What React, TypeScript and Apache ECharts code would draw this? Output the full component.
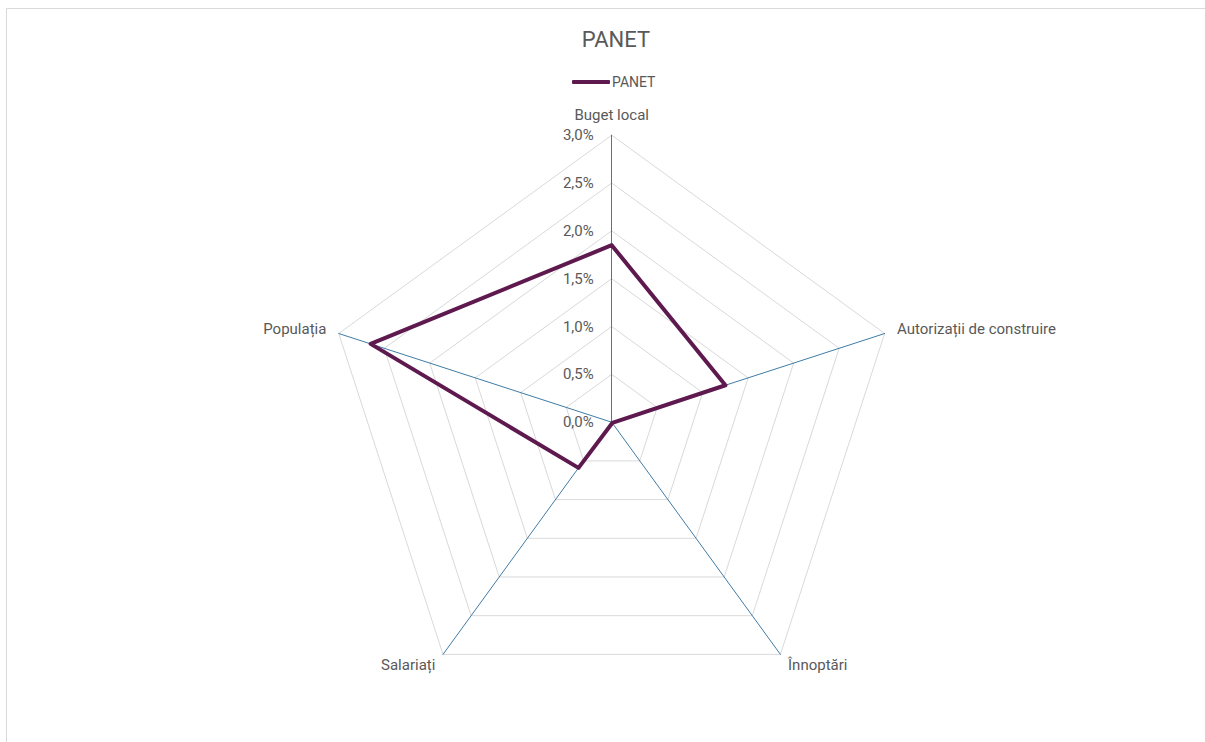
import React, { useEffect, useRef } from "react";
import * as echarts from "echarts";

// Indicators in ECharts order (starting at top, going counter-clockwise)
const categories = ["Buget local", "Populația", "Salariați", "Înnoptări", "Autorizații de construire"];
const seriesName = "PANET";
const values = [1.85, 2.65, 0.59, 0.01, 1.25]; // percent
const axisMax = 3.0;
const axisSplits = 6;

const FONT = "Roboto";
const TEXT = "#595959";

export default function App() {
  const ref = useRef<HTMLDivElement>(null);
  useEffect(() => {
    if (!ref.current) return;
    const chart = echarts.init(ref.current, null, { renderer: "svg" });
    chart.setOption({
      animation: false,
      backgroundColor: "#ffffff",
      title: {
        text: seriesName,
        left: 611,
        textAlign: "center",
        top: 23,
        textStyle: { fontFamily: FONT, fontSize: 22, fontWeight: "normal", color: TEXT },
      },
      legend: {
        data: [seriesName],
        left: 572,
        top: 75,
        padding: 0,
        icon: "roundRect",
        itemWidth: 38,
        itemHeight: 4,
        itemGap: 4,
        textStyle: { fontFamily: FONT, fontSize: 14, color: TEXT, padding: [0, 0, 0, -3] },
      },
      graphic: [
        {
          type: "rect",
          shape: { x: 6.5, y: 8.5, width: 1300, height: 800 },
          style: { fill: "none", stroke: "#d9d9d9", lineWidth: 1 },
          silent: true,
        },
      ],
      radar: {
        center: [611.7, 422.2],
        radius: 287,
        shape: "polygon",
        splitNumber: axisSplits,
        axisNameGap: 13,
        axisName: { fontFamily: FONT, fontSize: 15, color: TEXT },
        indicator: categories.map((c, i) =>
          i === 0
            ? { name: c, min: 0, max: axisMax }
            : { name: c, min: 0, max: axisMax, axisLabel: { show: false } }
        ),
        axisLine: { lineStyle: { color: "#3f7ca6", width: 1 } },
        splitLine: { lineStyle: { color: "#d9d9d9", width: 1 } },
        splitArea: { show: false },
        axisTick: { show: false },
        axisLabel: {
          show: true,
          margin: 18,
          fontFamily: FONT,
          fontSize: 15,
          color: TEXT,
          formatter: (v: number) => v.toFixed(1).replace(".", ",") + "%",
        },
      },
      series: [
        {
          type: "radar",
          name: seriesName,
          symbol: "none",
          lineStyle: { color: "#5e1a4f", width: 4, join: "round", cap: "round" },
          itemStyle: { color: "#5e1a4f" },
          data: [{ name: seriesName, value: values }],
        },
      ],
    });
    return () => chart.dispose();
  }, []);
  return (
    <div
      ref={ref}
      style={{ position: "fixed", left: 0, top: 0, width: 1205, height: 742 }}
    />
  );
}
